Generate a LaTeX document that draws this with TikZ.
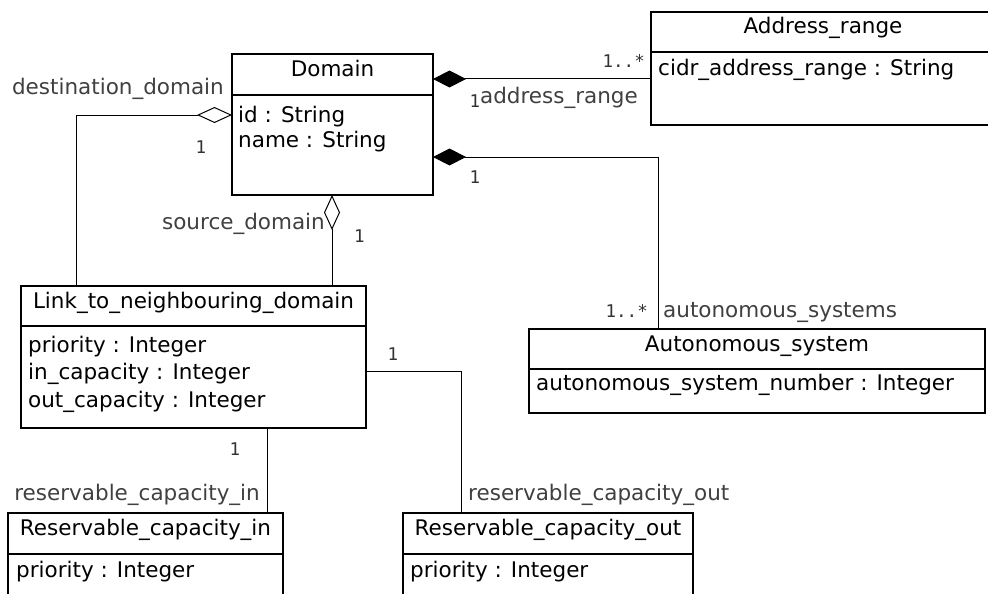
\documentclass[tikz,border=0pt]{standalone}
\usepackage{fontspec}
\setmainfont{DejaVu Sans}
\newfontfamily\monof{DejaVu Sans Mono}
\usetikzlibrary{arrows.meta}
\begin{document}
\begin{tikzpicture}[x=1pt,y=-1pt,
  cls/.style={draw, line width=1.3pt, fill=white, anchor=north west, inner sep=0pt, outer sep=0pt, rectangle},
  divl/.style={line width=1.3pt},
  ttl/.style={anchor=base, inner sep=0pt, font=\fontsize{21.5}{26}\selectfont},
  att/.style={anchor=base west, inner sep=0pt, font=\fontsize{21.5}{26}\selectfont},
  role/.style={inner sep=0pt, font=\fontsize{21.5}{26}\selectfont, text=black!75},
  mult/.style={inner sep=0pt, anchor=base, font=\monof\fontsize{17.5}{20}\selectfont, text=black!80},
  conn/.style={line width=1pt},
  aggr/.style={conn, {Diamond[fill=white, length=35pt, width=16pt]}-},
  comp/.style={conn, {Diamond[length=33pt, width=17pt]}-},
]
\clip (0,0) rectangle (988,594);
\fill[white] (0,0) rectangle (988,594);

% connectors (drawn first, boxes on top)
\node[cls, minimum width=201pt, minimum height=141pt] (domain) at (232,54) {};
\node[cls, minimum width=344pt, minimum height=113pt] (addr) at (651,12) {};
\node[cls, minimum width=345pt, minimum height=142pt] (link) at (21,286) {};
\node[cls, minimum width=456pt, minimum height=84pt] (auto) at (529,329) {};
\node[cls, minimum width=275pt, minimum height=100pt] (resin) at (8,513) {};
\node[cls, minimum width=290pt, minimum height=100pt] (resout) at (403,513) {};

\draw[divl] ([yshift=-41pt]domain.north west) -- ([yshift=-41pt]domain.north east);
\draw[divl] ([yshift=-40pt]addr.north west) -- ([yshift=-40pt]addr.north east);
\draw[divl] ([yshift=-40pt]link.north west) -- ([yshift=-40pt]link.north east);
\draw[divl] ([yshift=-40pt]auto.north west) -- ([yshift=-40pt]auto.north east);
\draw[divl] ([yshift=-41pt]resin.north west) -- ([yshift=-41pt]resin.north east);
\draw[divl] ([yshift=-41pt]resout.north west) -- ([yshift=-41pt]resout.north east);

% titles
\node[ttl] (tdomain) at (332.5,76.5) {Domain};
\node[ttl] (taddr) at (823,33.5) {Address\_range};
\node[ttl] (tlink) at (193.5,308.5) {Link\_to\_neighbouring\_domain};
\node[ttl] (tauto) at (757,351) {Autonomous\_system};
\node[ttl] (tresin) at (145.5,535) {Reservable\_capacity\_in};
\node[ttl] (tresout) at (548,535) {Reservable\_capacity\_out};

% attributes
\node[att] (a1) at (238,122) {id : String};
\node[att] (a2) at (238,147) {name : String};
\node[att] (a3) at (658,76) {cidr\_address\_range : String};
\node[att] (a4) at (28,352) {priority : Integer};
\node[att] (a5) at (28,379.5) {in\_capacity : Integer};
\node[att] (a6) at (28,407) {out\_capacity : Integer};
\node[att] (a7) at (536,390) {autonomous\_system\_number : Integer};
\node[att] (a8) at (16,577) {priority : Integer};
\node[att] (a9) at (410,577) {priority : Integer};

% connectors
\draw[aggr] ([yshift=-61pt]domain.north west) -| ([xshift=55pt]link.north west);
\draw[aggr] ([xshift=100pt]domain.south west) -- ([xshift=311pt]link.north west);
\draw[comp] ([yshift=-25pt]domain.north east) -- ([yshift=-67pt]addr.north west);
\draw[comp] ([yshift=-103pt]domain.north east) -| ([xshift=129pt]auto.north west);
\draw[conn] ([yshift=-85pt]link.north east) -| ([xshift=58pt]resout.north west);
\draw[conn] ([xshift=246pt]link.south west) -- ([xshift=259pt]resin.north west);

% role labels
\node[role, anchor=base east] (r1) at (224,95) {destination\_domain};
\node[role, anchor=base east] (r2) at (638,103) {address\_range};
\node[role, anchor=base east] (r3) at (325,229) {source\_domain};
\node[role, anchor=base west] (r4) at (663,317) {autonomous\_systems};
\node[role, anchor=base east] (r5) at (260,500) {reservable\_capacity\_in};
\node[role, anchor=base west] (r6) at (468,500) {reservable\_capacity\_out};

% multiplicities
\node[mult] (m1) at (201,153) {1};
\node[mult] (m2) at (475,107) {1};
\node[mult, anchor=base east] (m3) at (645,68) {1..*};
\node[mult] (m4) at (475,183) {1};
\node[mult, anchor=base east] (m5) at (648,317) {1..*};
\node[mult] (m6) at (359.5,242) {1};
\node[mult] (m7) at (393,360) {1};
\node[mult] (m8) at (235,455) {1};
\end{tikzpicture}
\end{document}
